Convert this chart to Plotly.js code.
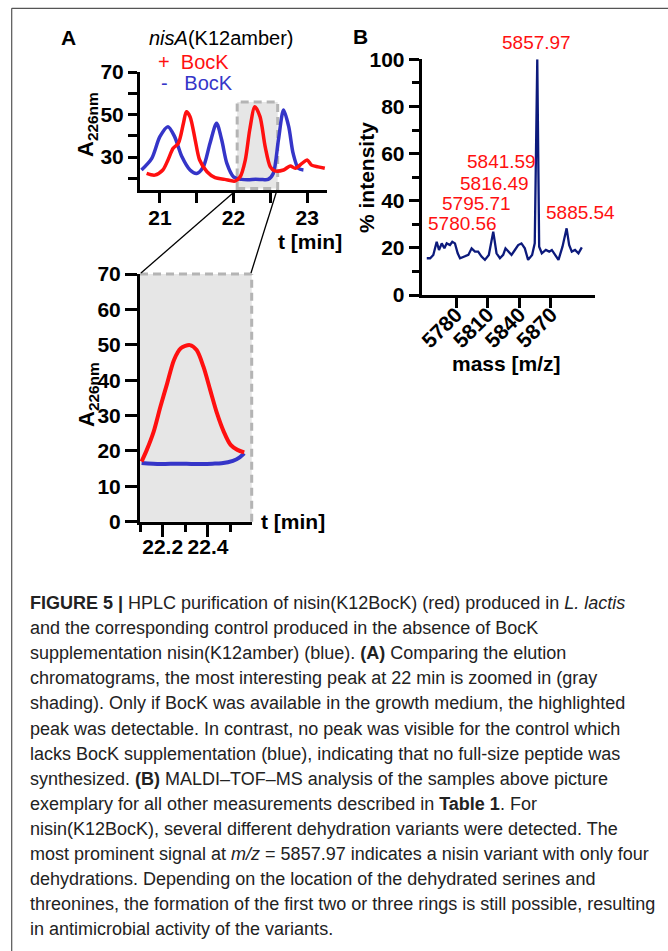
<!DOCTYPE html>
<html><head><meta charset="utf-8">
<script src="https://cdn.plot.ly/plotly-3.0.1.min.js"></script>
<style>html,body{margin:0;padding:0;background:#fff;} #chart{width:668px;height:951px;}</style>
</head><body><div id="chart"></div>
<script>
// ---------- DATA ----------
// Panel A (top): full chromatogram, t [min] vs A226nm
const tTopBlue = [20.75,20.89,21.0,21.11,21.2,21.3,21.41,21.5,21.59,21.68,21.77,21.84,21.91,22.0,22.11,22.2,22.3,22.4,22.47,22.54,22.61,22.68,22.75,22.81,22.88,22.95];
const aTopBlue = [23.9,29.4,39.6,44.3,39.6,30.1,23.9,22.3,25.4,36.4,45.9,38.0,27.0,20.7,19.5,19.3,19.6,19.4,19.5,22.3,38.0,52.1,44.3,31.7,24.7,23.9];
const tTopRed  = [20.82,20.93,21.04,21.11,21.18,21.25,21.32,21.36,21.41,21.48,21.54,21.64,21.75,21.88,22.02,22.09,22.16,22.22,22.29,22.36,22.43,22.5,22.56,22.68,22.77,22.84,22.93,23.0,23.06,23.15,23.24];
const aTopRed  = [22.3,21.5,23.9,28.6,34.1,36.4,45.9,51.3,49.0,38.0,28.6,23.1,20.3,19.5,18.7,20.7,28.6,42.7,53.7,49.0,34.9,25.4,23.5,23.9,25.8,24.7,27.0,28.6,26.2,25.4,24.7];
// Panel A (bottom): zoom of the shaded region
const tZoomRed  = [22.107,22.13,22.16,22.19,22.22,22.25,22.28,22.32,22.35,22.38,22.41,22.44,22.47,22.50,22.53,22.56];
const aZoomRed  = [17.0,20.3,25.4,32.5,39.1,45.7,49.0,49.9,48.5,43.8,37.2,30.6,25.4,21.7,20.3,19.6];
const tZoomBlue = [22.107,22.19,22.27,22.34,22.42,22.46,22.51,22.54,22.56];
const aZoomBlue = [16.6,16.3,16.4,16.3,16.4,16.5,17.2,18.2,19.3];
// Panel B: MALDI-TOF-MS spectrum
const massMz = [5752.3,5755.5,5758.5,5761.7,5763.9,5766.5,5769.0,5771.2,5774.3,5776.5,5779.0,5781.6,5783.8,5788.5,5791.7,5794.8,5798.0,5801.0,5804.2,5807.4,5811.1,5815.3,5818.4,5821.6,5824.7,5826.9,5829.5,5832.6,5835.8,5838.9,5842.0,5845.2,5848.3,5852.1,5854.6,5857.0,5858.8,5861.3,5865.1,5868.3,5870.8,5874.0,5877.1,5880.9,5884.8,5887.2,5889.7,5892.8,5896.0,5899.2];
const intensity = [15.6,15.6,17.0,22.6,19.1,21.9,19.8,21.9,21.2,22.6,21.9,17.7,15.6,16.3,17.0,19.8,18.4,18.4,16.3,14.9,17.0,26.9,17.7,15.6,17.0,19.8,18.4,17.0,19.1,21.2,21.9,19.8,14.9,17.0,21.9,100.0,20.5,17.7,19.1,18.4,19.1,17.0,14.9,20.5,28.3,21.2,18.4,19.1,17.7,20.2];
const peakLabels = ["5857.97","5841.59","5816.49","5795.71","5780.56","5885.54"];
const xTicksB = [5780,5810,5840,5870];
// Caption
const captionLines = [
  "<b>FIGURE 5 |</b> HPLC purification of nisin(K12BocK) (red) produced in <i>L. lactis</i>",
  "and the corresponding control produced in the absence of BocK",
  "supplementation nisin(K12amber) (blue). <b>(A)</b> Comparing the elution",
  "chromatograms, the most interesting peak at 22 min is zoomed in (gray",
  "shading). Only if BocK was available in the growth medium, the highlighted",
  "peak was detectable. In contrast, no peak was visible for the control which",
  "lacks BocK supplementation (blue), indicating that no full-size peptide was",
  "synthesized. <b>(B)</b> MALDI–TOF–MS analysis of the samples above picture",
  "exemplary for all other measurements described in <b>Table 1</b>. For",
  "nisin(K12BocK), several different dehydration variants were detected. The",
  "most prominent signal at <i>m/z</i> = 5857.97 indicates a nisin variant with only four",
  "dehydrations. Depending on the location of the dehydrated serines and",
  "threonines, the formation of the first two or three rings is still possible, resulting",
  "in antimicrobial activity of the variants."
];

// ---------- LAYOUT ----------
const W = 668, H = 951;
const px = x => x / W, py = y => 1 - y / H;
const FONT = "Liberation Sans, Arial, Helvetica, sans-serif";
const RED = "#ff1010", BLUE = "#3535c8", NAVY = "#0c1a7c";

const traces = [
  {x: tTopBlue, y: aTopBlue, xaxis:'x', yaxis:'y', mode:'lines', line:{color:BLUE, width:3.5, shape:'spline', smoothing:0.8}, hoverinfo:'skip'},
  {x: tTopRed, y: aTopRed, xaxis:'x', yaxis:'y', mode:'lines', line:{color:RED, width:3.5, shape:'spline', smoothing:0.8}, hoverinfo:'skip'},
  {x: tZoomBlue, y: aZoomBlue, xaxis:'x2', yaxis:'y2', mode:'lines', line:{color:BLUE, width:4, shape:'spline', smoothing:0.8}, hoverinfo:'skip'},
  {x: tZoomRed, y: aZoomRed, xaxis:'x2', yaxis:'y2', mode:'lines', line:{color:RED, width:4, shape:'spline', smoothing:0.8}, hoverinfo:'skip'},
  {x: massMz, y: intensity, xaxis:'x3', yaxis:'y3', mode:'lines', line:{color:NAVY, width:2.3}, hoverinfo:'skip'}
];

const tickFont = {family: FONT, size: 21, color: '#000', weight: 'bold'};
const axBase = {showline:true, linecolor:'#000', linewidth:3, ticks:'outside', tickcolor:'#000', tickwidth:3,
  showgrid:false, zeroline:false, tickfont: tickFont, fixedrange:true};

const layout = {
  width: W, height: H, margin:{l:0,r:0,t:0,b:0}, paper_bgcolor:'#fff', plot_bgcolor:'rgba(0,0,0,0)',
  showlegend:false, font:{family:FONT, color:'#000'},
  xaxis: Object.assign({}, axBase, {domain:[px(140), px(327)], range:[20.73, 23.27], anchor:'y',
    tickmode:'linear', tick0:21, dtick:1, ticklen:10, ticklabelstandoff:-3, minor:{ticks:'outside', tick0:21, dtick:0.5, ticklen:10, tickwidth:3, tickcolor:'#000'}}),
  yaxis: Object.assign({}, axBase, {domain:[py(190), py(72)], range:[14.5, 70], anchor:'x',
    tickmode:'linear', tick0:10, dtick:20, ticklen:9, minor:{ticks:'outside', tick0:10, dtick:10, ticklen:9, tickwidth:3, tickcolor:'#000'}}),
  xaxis2: Object.assign({}, axBase, {domain:[px(140), px(251.7)], range:[22.1, 22.593], anchor:'y2',
    tickmode:'linear', tick0:22.2, dtick:0.2, ticklen:12, ticklabelstandoff:-8, minor:{ticks:'outside', tick0:22.1, dtick:0.1, ticklen:7, tickwidth:3, tickcolor:'#000'}}),
  yaxis2: Object.assign({}, axBase, {domain:[py(521.7), py(274)], range:[0, 70], anchor:'x2',
    tickmode:'linear', tick0:0, dtick:10, ticklen:12}),
  xaxis3: Object.assign({}, axBase, {domain:[px(421.7), px(595)], range:[5747.5, 5911.7], anchor:'y3',
    tickmode:'array', tickvals:xTicksB, ticktext:xTicksB.map(String), ticklen:10, tickangle:-45, ticklabelstandoff:-14}),
  yaxis3: Object.assign({}, axBase, {domain:[py(295), py(59.3)], range:[0, 100], anchor:'x3',
    tickmode:'linear', tick0:0, dtick:20, ticklen:10, minor:{ticks:'outside', tick0:0, dtick:10, ticklen:7, tickwidth:3, tickcolor:'#000'}}),
  shapes: [
    // figure frame (top & left)
    {type:'line', xref:'paper', yref:'paper', x0:px(11.7), x1:1, y0:py(8.3), y1:py(8.3), line:{color:'#555', width:1.2}},
    {type:'line', xref:'paper', yref:'paper', x0:px(11.7), x1:px(11.7), y0:py(8.3), y1:0, line:{color:'#555', width:1.2}},
    // shaded highlight in top chromatogram
    {type:'rect', xref:'x', yref:'y', x0:22.05, x1:22.6, y0:15.2, y1:55.9, fillcolor:'#e6e6e6',
      line:{color:'#b4b4b4', width:3, dash:'8px,5px'}, layer:'below'},
    // shaded zoom panel background
    {type:'rect', xref:'x2 domain', yref:'y2 domain', x0:0, x1:1, y0:0, y1:1, fillcolor:'#e6e6e6', line:{width:0}, layer:'below'},
    {type:'line', xref:'x2 domain', yref:'y2 domain', x0:0, x1:1, y0:1, y1:1, line:{color:'#b4b4b4', width:3, dash:'8px,5px'}, layer:'below'},
    {type:'line', xref:'x2 domain', yref:'y2 domain', x0:1, x1:1, y0:0, y1:1, line:{color:'#b4b4b4', width:3, dash:'8px,5px'}, layer:'below'},
    // connector lines
    {type:'line', xref:'paper', yref:'paper', x0:px(233), y0:py(193), x1:px(141), y1:py(273), line:{color:'#000', width:1.3}},
    {type:'line', xref:'paper', yref:'paper', x0:px(277), y0:py(190), x1:px(251), y1:py(273), line:{color:'#000', width:1.3}}
  ],
  annotations: []
};

const ann = layout.annotations;
function addText(text, x, y, opts) {
  ann.push(Object.assign({text:text, xref:'paper', yref:'paper', x:px(x), y:py(y), showarrow:false,
    xanchor:'center', yanchor:'middle', font:{family:FONT, size:21, color:'#000'}}, opts || {}));
}
// panel letters
addText('<b>A</b>', 68, 38, {font:{family:FONT, size:21, color:'#000'}});
addText('<b>B</b>', 360, 37, {font:{family:FONT, size:21, color:'#000'}});
// panel A header/legend
addText('<i>nisA</i>(K12amber)', 221, 38, {font:{family:FONT, size:20, color:'#000'}});
addText('+\u00a0\u00a0BocK', 156, 62, {xanchor:'left', font:{family:FONT, size:20, color:RED}});
addText('-\u00a0\u00a0\u00a0BocK', 159, 83, {xanchor:'left', font:{family:FONT, size:20, color:BLUE}});
// axis titles
addText('<b>A<sub>226nm</sub></b>', 87, 125, {textangle:-90, font:{family:FONT, size:22, color:'#000'}});
addText('<b>t [min]</b>', 344, 242, {xanchor:'right'});
addText('<b>A<sub>226nm</sub></b>', 88, 395, {textangle:-90, font:{family:FONT, size:22, color:'#000'}});
addText('<b>t [min]</b>', 259, 521, {xanchor:'left'});
addText('<b>% intensity</b>', 367, 178, {textangle:-90});
addText('<b>mass [m/z]</b>', 506, 363);
// peak labels
const peakPos = [[536.7,42.7],[501.7,161.7],[494,183],[476.7,203],[462.7,224],[580.7,212.7]];
peakLabels.forEach((lab, i) => addText(lab, peakPos[i][0], peakPos[i][1], {font:{family:FONT, size:19, color:RED}, borderpad:0}));
// caption
captionLines.forEach((line, i) => addText(line, 28, 603 + i * 25.1,
  {xanchor:'left', font:{family:FONT, size:18, color:'#222'}}));

Plotly.newPlot('chart', traces, layout, {staticPlot:true, displayModeBar:false});
</script>
</body></html>
